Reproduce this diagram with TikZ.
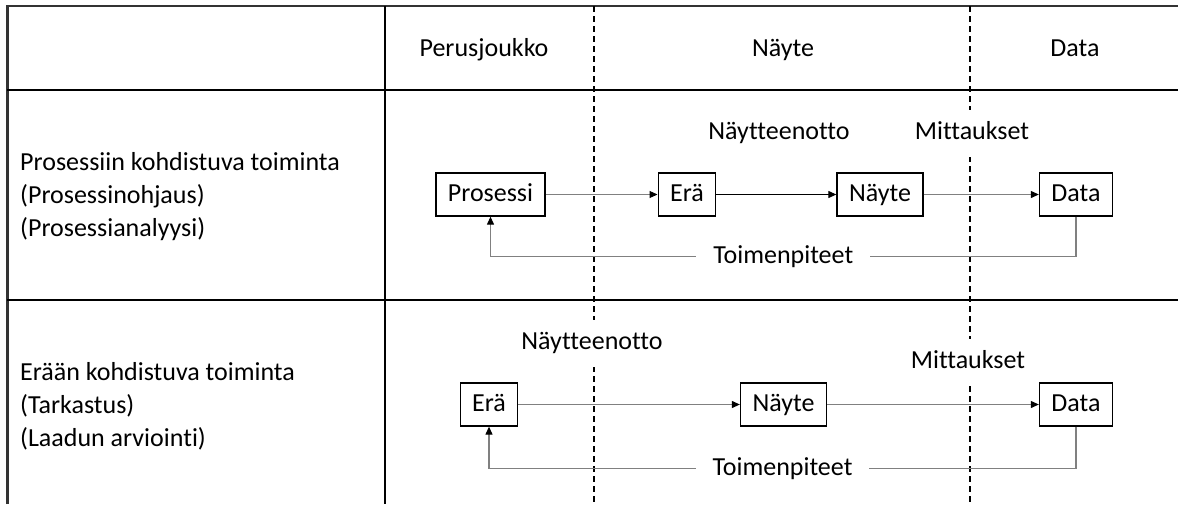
\documentclass[tikz,border=0pt]{standalone}
\usepackage{fontspec}
\setmainfont{Carlito}[Ligatures=NoCommon]
\usetikzlibrary{arrows.meta}

\begin{document}
\begin{tikzpicture}[x=1pt,y=-1pt,
  every node/.style={font=\fontsize{26}{33}\selectfont, text=black},
  line/.style={text height=19pt, text depth=6pt},
  frame/.style={line width=2.8pt, black!80},
  grid/.style={line width=1.8pt, black},
  phase/.style={line width=1.2pt, black, dash pattern=on 6pt off 4pt},
  box/.style={line, draw=black, line width=1.3pt, fill=white, inner xsep=12pt, inner ysep=0pt, minimum height=43pt},
  tag/.style={line, fill=white, inner xsep=3pt, inner ysep=0pt, minimum height=47pt},
  head/.style={line, inner sep=0pt},
  rowlabel/.style={anchor=west, align=left, inner sep=0pt},
  flow/.style={draw=black!50, line width=1.1pt, -{Triangle[length=8pt,width=7pt,color=black]}},
  back/.style={draw=black!50, line width=1.1pt, -{Triangle[length=8pt,width=7pt,color=black]}},
  action/.style={line, fill=white, inner xsep=17pt, inner ysep=2pt},
]
\useasboundingbox (0,0) rectangle (1178,504);

% table frame and rules
\draw[frame] (7.5,504) -- (7.5,6) -- (1178,6);
\draw[grid] (7,90) -- (1178,90);
\draw[grid] (7,300) -- (1178,300);
\draw[grid] (385,6) -- (385,504);

% phase boundaries
\draw[phase] (594,6) -- (594,504);
\draw[phase] (970,6) -- (970,504);

% column headings
\node[head] (hPop) at (484,50) {Perusjoukko};
\node[head] (hSample) at (783,50) {Näyte};
\node[head] (hData) at (1075,50) {Data};

% row headings
\node[rowlabel] (rProcess) at (20,197) {Prosessiin kohdistuva toiminta\\(Prosessinohjaus)\\(Prosessianalyysi)};
\node[rowlabel] (rBatch) at (20,406) {Erään kohdistuva toiminta\\(Tarkastus)\\(Laadun arviointi)};

% process-directed chain
\node[box] (pros) at (490.5,194.5) {Prosessi};
\node[box] (era1) at (687,194.5) {Erä};
\node[box] (nay1) at (880,194.5) {Näyte};
\node[box] (data1) at (1076,194.5) {Data};
\node[tag] (sam1) at (779,133) {Näytteenotto};
\node[tag] (mea1) at (972,133) {Mittaukset};

\draw[flow] (pros) -- (era1);
\draw[flow, draw=black] (era1) -- (nay1);
\draw[flow] (nay1) -- (data1);
\draw[back] (data1.south) -- ++(0,40) -| node[action, pos=0.25] (act1) {Toimenpiteet} (pros.south);

% batch-directed chain
\node[box] (era2) at (489,404.5) {Erä};
\node[box] (nay2) at (783.5,404.5) {Näyte};
\node[box] (data2) at (1076,404.5) {Data};
\node[tag] (sam2) at (592,343) {Näytteenotto};
\node[tag] (mea2) at (968,362) {Mittaukset};

\draw[flow] (era2) -- (nay2);
\draw[flow] (nay2) -- (data2);
\draw[back] (data2.south) -- ++(0,42) -| node[action, pos=0.25] (act2) {Toimenpiteet} (era2.south);
\end{tikzpicture}
\end{document}
